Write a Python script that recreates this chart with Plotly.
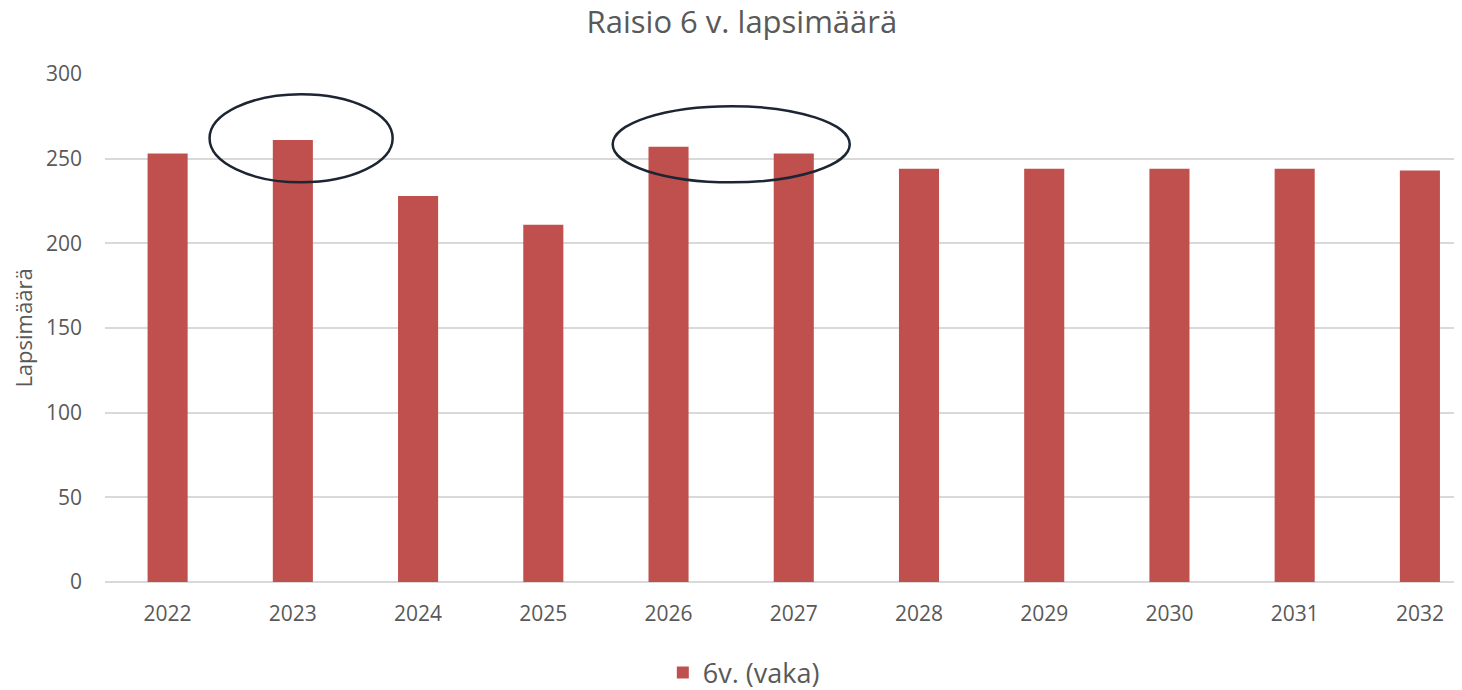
import plotly.graph_objects as go

years = ["2022", "2023", "2024", "2025", "2026", "2027", "2028", "2029", "2030", "2031", "2032"]
values = [253, 261, 228, 211, 257, 253, 244, 244, 244, 244, 243]
series_name = "6v. (vaka)"
title_text = "Raisio 6 v. lapsimäärä"
y_title = "Lapsimäärä"
y_ticks = [0, 50, 100, 150, 200, 250, 300]

FONT = "Open Sans"
GREY = "#595959"

fig = go.Figure()
fig.add_trace(go.Bar(
    x=years, y=values, name=series_name,
    marker=dict(color="#C0504D", line=dict(width=0)),
    width=0.32, showlegend=True,
))

# highlight ellipses (in data coordinates)
ellipses = [(0.335, 1.797, 236, 288), (3.554, 5.447, 236, 281)]
for x0, x1, y0, y1 in ellipses:
    fig.add_shape(type="circle", xref="x", yref="y", x0=x0, x1=x1, y0=y0, y1=y1,
                  line=dict(color="#1c2533", width=2.5), fillcolor="rgba(0,0,0,0)", layer="above")

fig.update_layout(
    width=1462, height=690,
    margin=dict(l=97, r=0, t=66, b=116, autoexpand=False),
    paper_bgcolor="white", plot_bgcolor="white",
    title=dict(text=title_text, x=0.502, xanchor="center", xref="container", y=1 - 3 / 690, yref="container",
               yanchor="top", pad=dict(t=0), font=dict(family=FONT, size=31, color=GREY)),
    font=dict(family=FONT, color=GREY),
    showlegend=True,
    legend=dict(orientation="h", x=0.468, xanchor="center", xref="paper", y=-0.179, yanchor="middle",
                font=dict(family=FONT, size=27, color=GREY)),
)
fig.update_xaxes(type="category", range=[-0.5, 10.40], showgrid=False, showline=False, automargin=False,
                 ticks="", tickfont=dict(family=FONT, size=21, color=GREY), ticklabelstandoff=17)
fig.update_yaxes(range=[0, 300], tickvals=y_ticks, showgrid=True, gridcolor="#d9d9d9", gridwidth=1.5,
                 zeroline=True, zerolinecolor="#d9d9d9", zerolinewidth=1.5, showline=False, automargin=False,
                 tickfont=dict(family=FONT, size=21, color=GREY), ticklabelstandoff=22,
                 title=dict(text=y_title, font=dict(family=FONT, size=22, color=GREY), standoff=27))
fig.write_html("out.html")
